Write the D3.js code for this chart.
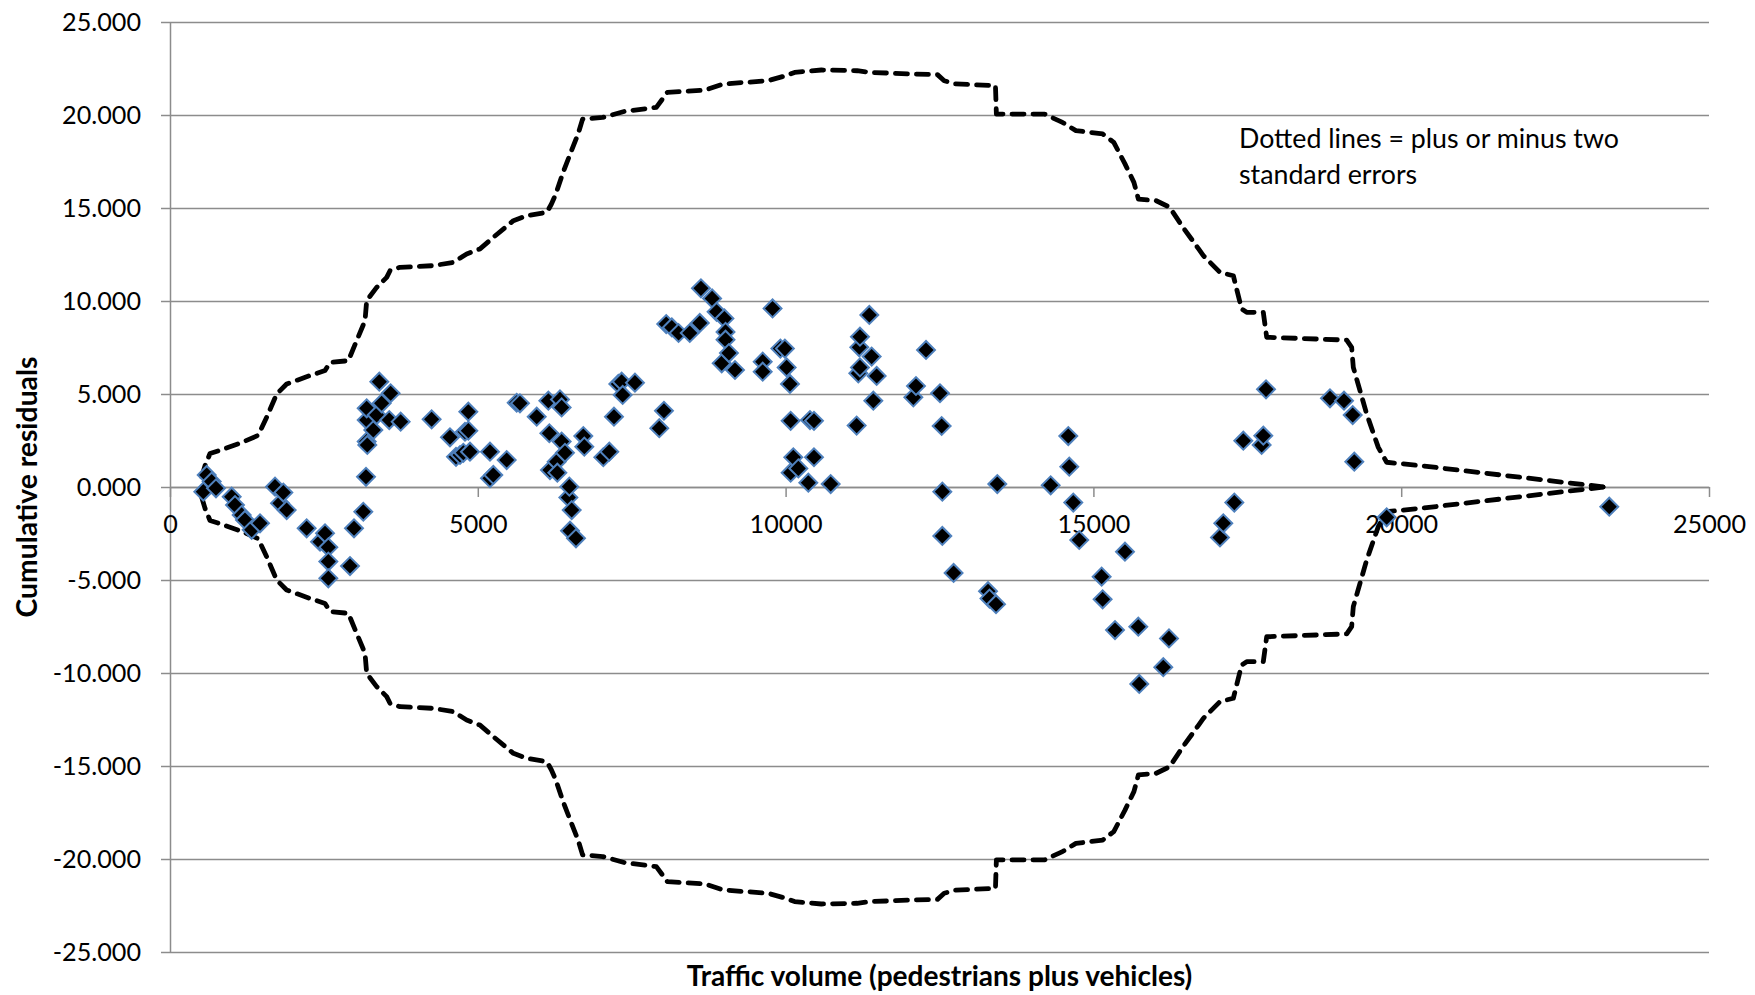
<!DOCTYPE html>
<html><head><meta charset="utf-8">
<script src="https://cdn.jsdelivr.net/npm/d3@7"></script>
<style>body{margin:0;background:#fff;} svg{display:block;}</style>
</head><body>
<svg id="chart" width="1755" height="995"></svg>
<script>
// ---- data ----
const trafficVolume = [
  541,596,677,747,1002,1056,1164,1218,1327,1462,1706,1787,1841,1895,2220,2437,2518,2572,2572,2572,
  2924,2989,3140,3184,3195,3195,3195,3205,3303,3357,3400,3438,3562,3584,3747,4250,4548,4646,4711,4765,
  4792,4846,4846,4873,5198,5198,5252,5469,5632,5685,5957,6146,6162,6172,6281,6292,6335,6362,6362,6416,
  6471,6487,6498,6525,6595,6714,6730,7039,7136,7212,7283,7337,7353,7553,7948,8024,8061,8152,8261,8443,
  8606,8625,8806,8879,8962,9006,9024,9024,9079,9178,9628,9628,9788,9915,9988,10017,10071,10082,10082,10125,
  10207,10369,10396,10461,10461,10732,11154,11181,11197,11208,11208,11360,11398,11425,11479,12075,12118,12281,12508,12535,
  12546,12546,12729,13288,13312,13418,13439,14306,14592,14608,14673,14770,15134,15150,15351,15513,15729,15745,16135,16228,
  17056,17110,17289,17435,17733,17760,17804,18843,19071,19212,19238,19764,23380
];
const cumResidual = [
  -0.25,0.65,0.29,-0.07,-0.52,-0.97,-1.5,-1.77,-2.3,-1.95,0.02,-0.88,-0.3,-1.24,-2.22,-2.94,-2.49,-3.24,-4.01,-4.91,
  -4.25,-2.22,-1.33,0.55,2.44,3.6,4.23,2.26,3.06,3.87,5.66,4.5,3.6,5.04,3.51,3.64,2.67,1.62,1.72,1.84,
  2.97,4.05,3.03,1.9,1.9,0.47,0.65,1.45,4.53,4.5,3.78,4.64,2.89,0.91,1.36,0.77,4.71,4.28,2.44,1.84,
  -0.56,0.02,-2.35,-1.24,-2.76,2.74,2.17,1.6,1.9,3.78,5.54,5.66,4.95,5.61,3.16,4.1,8.76,8.58,8.28,8.28,
  8.82,10.68,10.14,9.42,6.65,9.06,8.34,7.92,7.2,6.29,6.74,6.2,9.6,7.44,7.44,6.43,5.54,3.56,0.77,1.6,
  1.0,0.23,3.6,3.56,1.6,0.16,3.3,6.11,7.51,6.43,8.08,9.25,7.01,4.64,5.97,4.82,5.43,7.37,5.04,3.28,
  -0.25,-2.63,-4.62,-5.6,-6.0,-6.3,0.16,0.09,2.74,1.09,-0.84,-2.85,-4.82,-6.04,-7.69,-3.48,-7.51,-10.59,-9.69,-8.14,
  -2.71,-1.95,-0.84,2.49,2.26,2.76,5.25,4.77,4.64,3.87,1.36,-1.63,-1.06
];
const bandVolume = [
  515,569,650,812,1137,1434,1570,1733,1895,2274,2518,2599,2897,3032,3168,3195,3357,3520,3574,3736,
  4277,4602,4819,5036,5252,5578,5796,6122,6194,6267,6376,6521,6629,6702,7029,7391,7900,8080,8697,8986,
  9712,10001,10146,10582,11162,11379,12105,12467,12576,12758,13409,13424,14207,14498,14716,15151,15331,15513,15658,15731,
  16021,16238,16455,16709,16786,17056,17273,17408,17490,17760,17815,19115,19195,19222,19440,19628,19764,20305,23300
];
const upperBand = [
  0.55,1.15,1.8,1.97,2.35,2.78,3.75,5.0,5.54,5.99,6.26,6.7,6.79,7.87,8.94,10.02,10.73,11.27,11.63,11.81,
  11.9,12.08,12.53,12.8,13.42,14.32,14.59,14.77,15.2,15.75,16.83,18.08,18.98,19.78,19.87,20.2,20.41,21.22,21.34,21.67,
  21.84,22.11,22.29,22.42,22.38,22.29,22.2,22.17,21.84,21.67,21.58,20.05,20.05,19.6,19.16,18.98,18.53,17.37,16.38,15.48,
  15.39,15.04,13.96,12.8,12.44,11.54,11.36,9.57,9.39,9.39,8.05,7.9,7.51,6.43,3.92,2.13,1.33,1.15,0
];
const lowerBand = [
  -0.55,-1.15,-1.8,-1.97,-2.35,-2.78,-3.75,-5.0,-5.54,-5.99,-6.26,-6.7,-6.79,-7.87,-8.94,-10.02,-10.73,-11.27,-11.63,-11.81,
  -11.9,-12.08,-12.53,-12.8,-13.42,-14.32,-14.59,-14.77,-15.2,-15.75,-16.83,-18.08,-18.98,-19.78,-19.87,-20.2,-20.41,-21.22,-21.34,-21.67,
  -21.84,-22.11,-22.29,-22.42,-22.38,-22.29,-22.2,-22.17,-21.84,-21.67,-21.58,-20.05,-20.05,-19.6,-19.16,-18.98,-18.53,-17.37,-16.38,-15.48,
  -15.39,-15.04,-13.96,-12.8,-12.44,-11.54,-11.36,-9.57,-9.39,-9.39,-8.05,-7.9,-7.51,-6.43,-3.92,-2.13,-1.33,-1.15,0
];
const xTicks = [0,5000,10000,15000,20000,25000];
const yTicks = [-25,-20,-15,-10,-5,0,5,10,15,20,25];
const xTitle = "Traffic volume (pedestrians plus vehicles)";
const yTitle = "Cumulative residuals";
const noteLines = ["Dotted lines = plus or minus two", "standard errors"];

// ---- layout ----
const FONT = "Lato, 'Open Sans', sans-serif";
const svg = d3.select("#chart");
const L = 170, R = 1709, T = 22, B = 952;
const x = d3.scaleLinear().domain([0,25000]).range([L,R]);
const y = d3.scaleLinear().domain([-25,25]).range([B,T]);
const gridCol = "#8c8c8c";

function fit(sel, target){
  const w = sel.node().getComputedTextLength();
  const fs = parseFloat(sel.attr("font-size"));
  return fs*target/w;
}

const loc = d3.formatLocale({decimal:".", thousands:",", grouping:[3], currency:["",""], minus:"-"});
const yFmt = loc.format(".3f");

// grid
const grid = svg.append("g").attr("transform",`translate(${L},0)`)
  .call(d3.axisLeft(y).tickValues(yTicks).tickSize(-(R-L)).tickFormat(""));
grid.select(".domain").remove();
grid.selectAll("line").attr("stroke",gridCol).attr("stroke-width",1.5);

// y axis
const yAx = svg.append("g").attr("transform",`translate(${L},0)`)
  .call(d3.axisLeft(y).tickValues(yTicks).tickSize(9).tickSizeOuter(0).tickPadding(20).tickFormat(yFmt));
yAx.selectAll("line, path").attr("stroke",gridCol).attr("stroke-width",1.5);
yAx.attr("font-family",FONT).attr("font-size",25);
yAx.selectAll("text").attr("fill","#000");
let tickFs;
{
  const t = yAx.selectAll("text").filter(d=>d===25);
  tickFs = fit(t.attr("font-size",25), 79);
  yAx.attr("font-size",tickFs);
  yAx.selectAll("text").attr("font-size",null);
}

// x axis at y = 0
const xAx = svg.append("g").attr("transform",`translate(0,${y(0)})`)
  .call(d3.axisBottom(x).tickValues(xTicks).tickSize(10).tickSizeOuter(0).tickPadding(18).tickFormat(d3.format("d")));
xAx.selectAll("line, path").attr("stroke",gridCol).attr("stroke-width",1.5);
xAx.attr("font-family",FONT).attr("font-size",tickFs);
xAx.selectAll("text").attr("fill","#000");

// titles
const xt = svg.append("text").attr("x",(L+R)/2).attr("y",986).attr("text-anchor","middle")
  .attr("font-family",FONT).attr("font-weight","bold").attr("font-size",26).attr("fill","#000").text(xTitle);
xt.attr("font-size", fit(xt,506));
const yt = svg.append("text").attr("transform",`translate(37,${(T+B)/2}) rotate(-90)`).attr("text-anchor","middle")
  .attr("font-family",FONT).attr("font-weight","bold").attr("font-size",26).attr("fill","#000").text(yTitle);
yt.attr("font-size", fit(yt,261));

// note
const n1 = svg.append("text").attr("x",1239).attr("y",148).attr("font-family",FONT).attr("font-size",26).attr("fill","#000").text(noteLines[0]);
const noteFs = fit(n1,380);
n1.attr("font-size",noteFs);
svg.append("text").attr("x",1239).attr("y",184).attr("font-family",FONT).attr("font-size",noteFs).attr("fill","#000").text(noteLines[1]);

// dashed bands
const bandLine = vals => d3.line().x((d,i)=>x(bandVolume[i])).y((d,i)=>y(vals[i]))(vals);
[upperBand, lowerBand].forEach(v=>{
  svg.append("path").attr("d",bandLine(v)).attr("fill","none").attr("stroke","#000")
    .attr("stroke-width",4.8).attr("stroke-dasharray","12,9").attr("stroke-linecap","round").attr("stroke-linejoin","round");
});

// points
const sym = d3.symbol().type(d3.symbolSquare).size(160);
svg.append("g").selectAll("path").data(trafficVolume.map((v,i)=>[v,cumResidual[i]])).join("path")
  .attr("d",sym).attr("transform",d=>`translate(${x(d[0])},${y(d[1])}) rotate(45)`)
  .attr("fill","#000").attr("stroke","#4f81bd").attr("stroke-width",2);
</script>
</body></html>
